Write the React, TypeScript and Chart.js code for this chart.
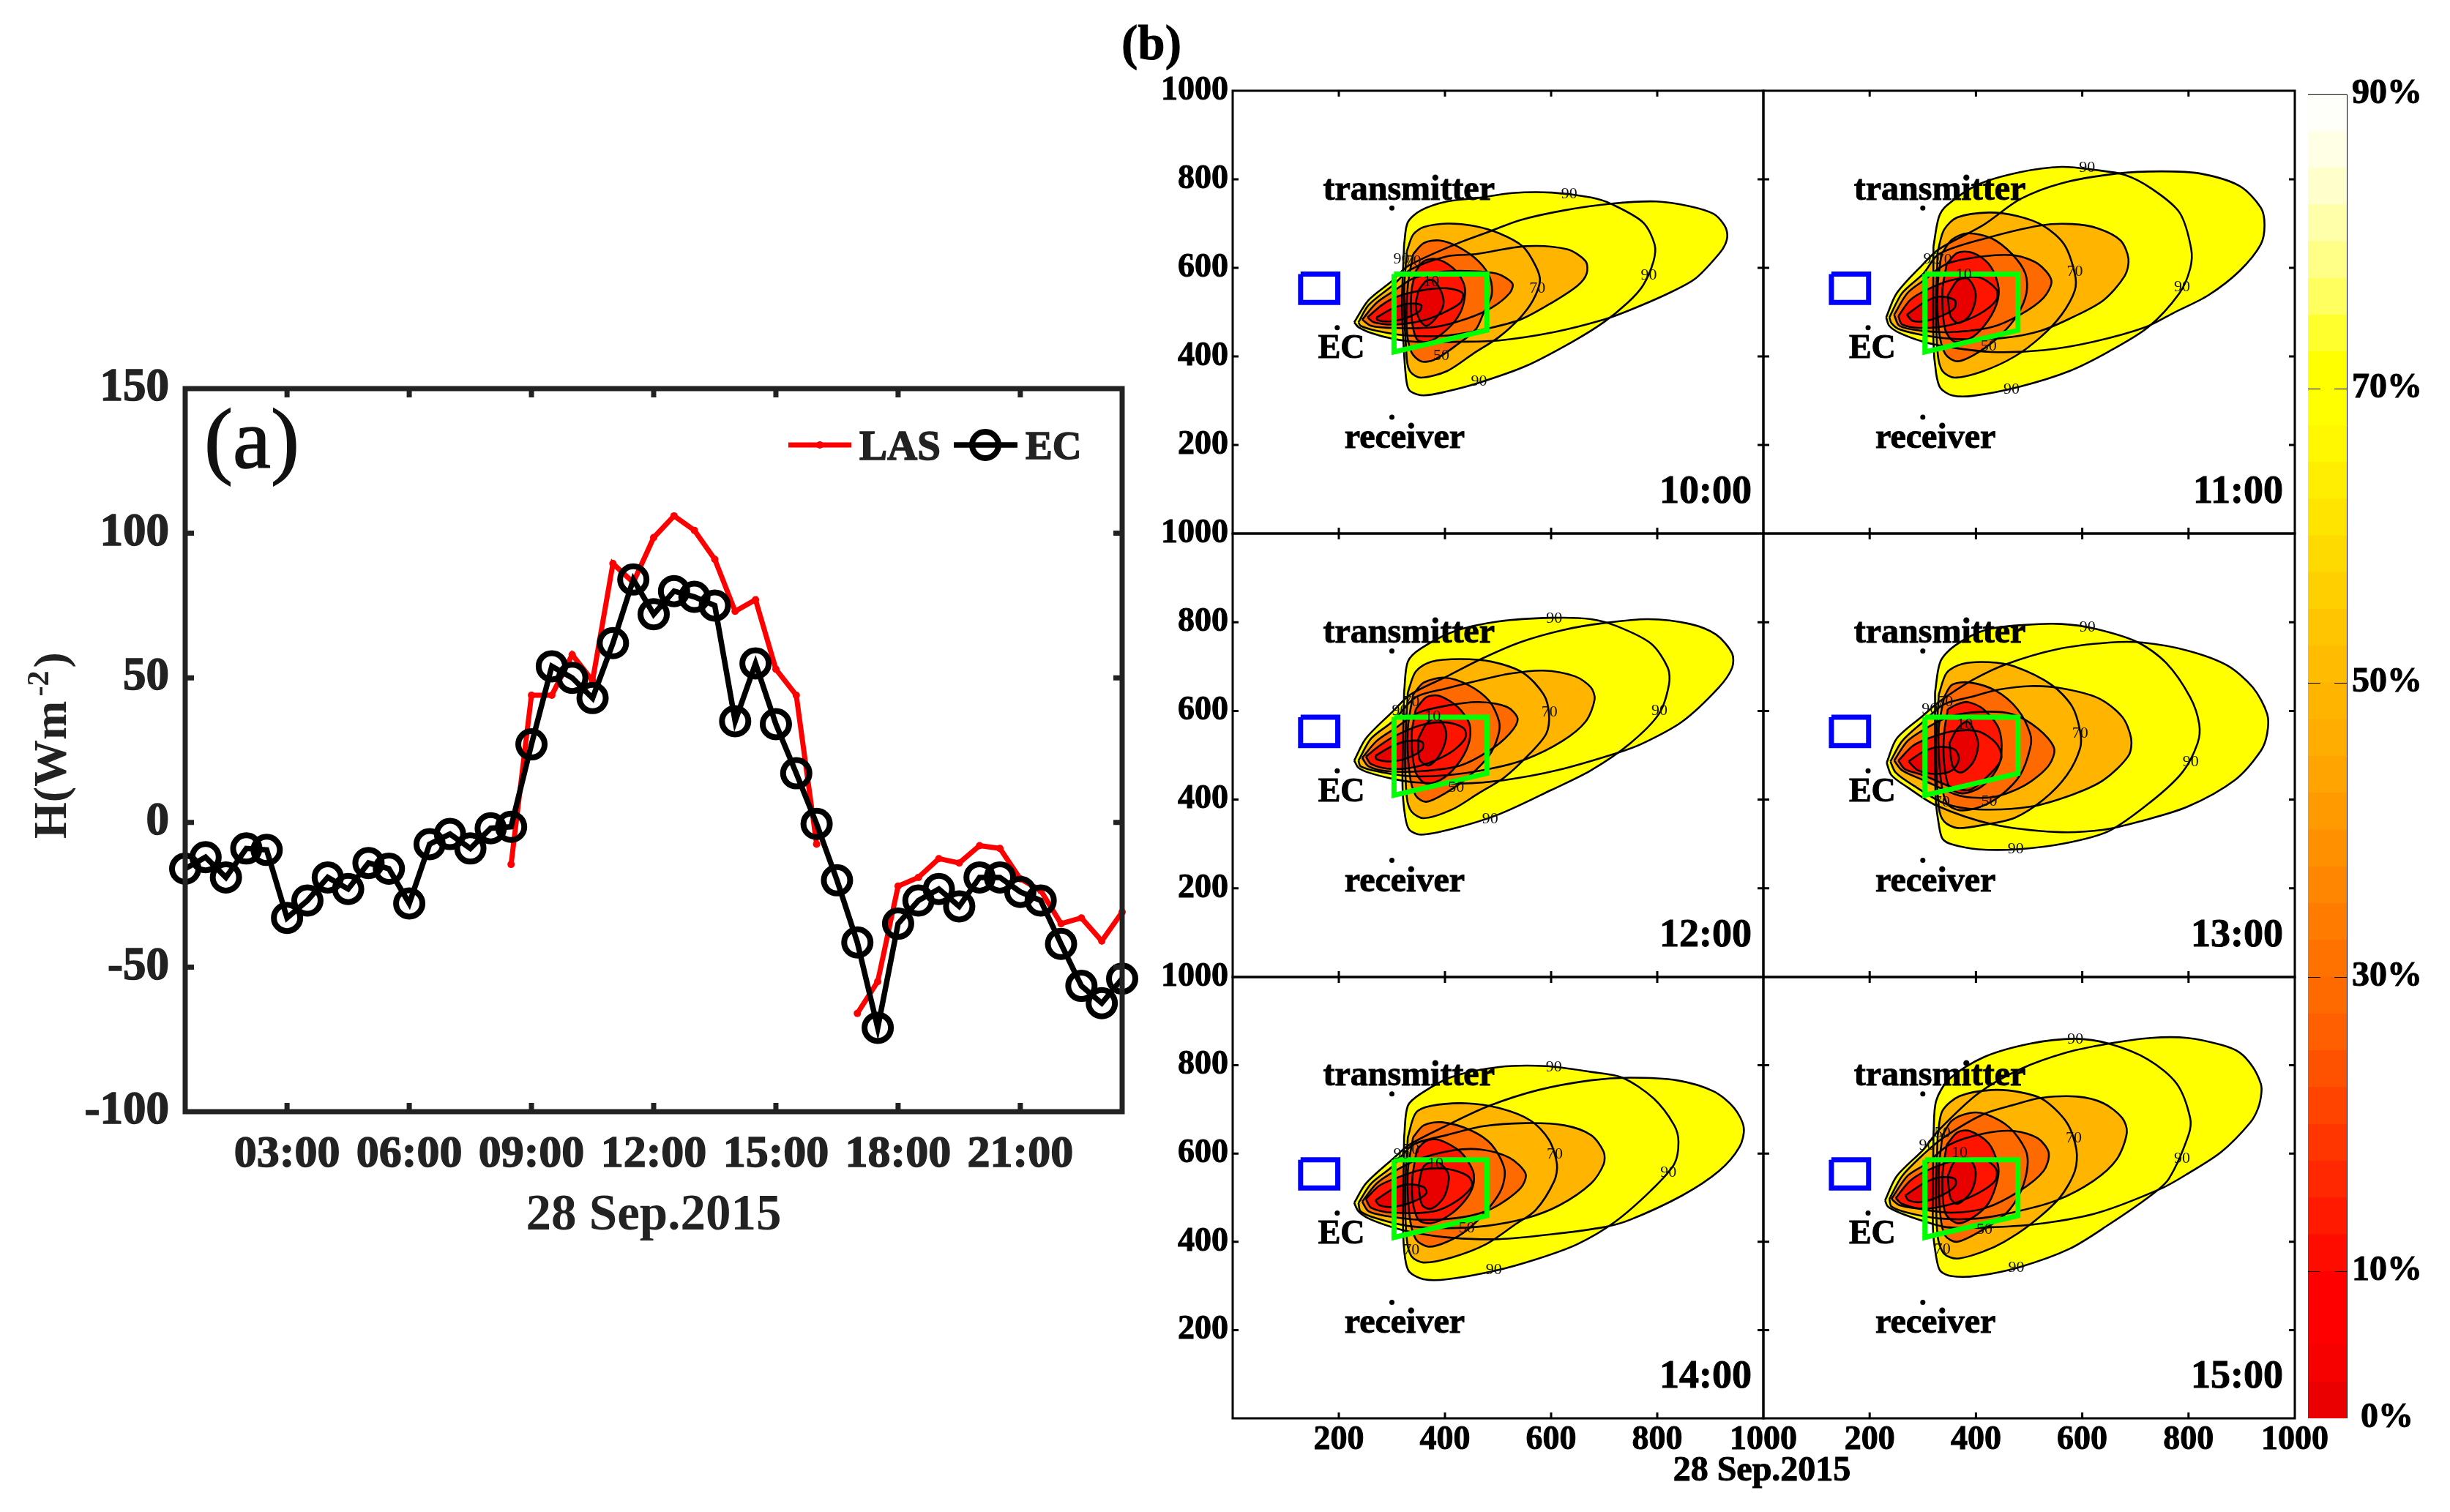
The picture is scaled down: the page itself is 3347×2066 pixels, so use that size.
import React, { useEffect, useRef } from "react";
import { Chart, registerables } from "chart.js";

Chart.register(...registerables);

const FONT = "'Liberation Serif'";

// ---------- panel (a) ----------
const hours = [0.5,1,1.5,2,2.5,3,3.5,4,4.5,5,5.5,6,6.5,7,7.5,8,8.5,9,9.5,10,10.5,11,11.5,12,12.5,13,13.5,14,14.5,15,15.5,16,16.5,17,17.5,18,18.5,19,19.5,20,20.5,21,21.5,22,22.5,23,23.5];
const ecValues = [-16,-12,-19,-9,-9.5,-33,-27,-19,-23,-14,-16,-28,-7.5,-4,-9,-2,-1.5,27,54,50,43,62,84,72,80,78,75,35,55,34,17,-0.5,-20,-41.5,-71,-35,-27,-23,-29,-19,-19,-24,-27,-42,-56.5,-62.5,-54];
const lasValues = [null,null,null,null,null,null,null,null,null,null,null,null,null,null,null,null,-14.5,44,44,58,49,89.5,83,98.5,106,101,91,73,77,53,44,-7.5,null,-66,-55,-22,-19,-12.5,-14,-8,-9,-19.5,-23.5,-35,-33,-41,-31];
const hourTicks = [3,6,9,12,15,18,21];
const hourLabels = ["03:00","06:00","09:00","12:00","15:00","18:00","21:00"];
const fluxTicks = [-100,-50,0,50,100,150];

// ---------- panel (b): footprint contours (x, y in metres) ----------
const c10_O90 = [[229,477],[256,527],[301,571],[330,604],[419,653],[488,684],[542,708],[625,730],[714,745],[798,750],[862,739],[906,722],[926,697],[932,675],[928,653],[916,631],[872,576],[822,543],[749,505],[699,483],[606,455],[502,436],[429,433],[345,433],[301,440],[261,453],[237,466]];
const c10_O70 = [[237,477],[256,516],[301,560],[335,596],[404,626],[458,631],[552,649],[630,642],[665,615],[667,587],[650,560],[601,521],[542,483],[473,461],[404,447],[330,447],[271,458],[241,469]];
const c10_O50 = [[244,483],[271,521],[305,549],[340,576],[389,590],[438,593],[497,587],[527,565],[522,543],[488,510],[443,486],[379,466],[305,464],[261,469]];
const c10_O30 = [[254,488],[281,516],[310,535],[355,549],[404,554],[433,543],[429,521],[394,497],[355,480],[305,472],[266,477]];
const c10_O10 = [[271,488],[301,508],[330,519],[355,516],[352,502],[325,486],[296,479],[273,482]];
const c10_U90 = [[323,653],[330,703],[355,730],[404,750],[463,758],[527,769],[601,770],[675,759],[714,744],[773,703],[795,653],[793,615],[773,560],[744,521],[699,477],[640,433],[552,378],[463,340],[404,321],[360,312],[335,321],[328,340],[323,406],[319,516]];
const c10_U70 = [[328,637],[340,675],[360,692],[404,700],[453,695],[502,678],[547,648],[571,604],[579,571],[566,527],[542,488],[502,444],[453,406],[404,367],[355,352],[335,365],[328,395],[323,543]];
const c10_U50 = [[340,631],[360,656],[389,662],[424,648],[463,615],[485,577],[488,538],[473,499],[458,461],[419,423],[379,392],[355,389],[337,409],[328,461],[330,560]];
const c10_U30 = [[345,593],[360,615],[384,620],[414,601],[433,571],[438,543],[429,499],[404,461],[369,433],[347,439],[337,488],[337,549]];
const c10_U10 = [[350,549],[365,571],[379,571],[394,543],[397,516],[384,488],[365,469],[352,483],[345,516]];

const c11_O90 = [[231,488],[251,543],[301,609],[330,642],[414,697],[483,755],[561,791],[665,813],[749,818],[822,813],[896,785],[936,736],[943,697],[936,653],[896,593],[837,538],[773,499],[719,466],[621,433],[527,414],[429,410],[345,422],[301,433],[256,453],[237,469]];
const c11_O70 = [[237,488],[261,543],[301,587],[330,631],[419,667],[522,696],[581,699],[630,689],[672,662],[687,620],[680,582],[640,527],[581,488],[522,458],[453,442],[365,439],[305,447],[256,461],[241,475]];
const c11_O50 = [[246,494],[271,543],[301,571],[345,609],[414,626],[473,628],[517,609],[542,571],[527,532],[483,494],[429,466],[355,455],[296,458],[256,469]];
const c11_O30 = [[254,491],[276,527],[305,549],[350,571],[404,579],[438,552],[438,527],[404,494],[355,472],[301,464],[261,472]];
const c11_O10 = [[270,494],[301,521],[330,535],[360,527],[360,510],[340,494],[305,480],[281,480]];
const c11_U90 = [[320,648],[330,714],[345,741],[404,788],[483,816],[561,828],[625,821],[680,810],[729,780],[783,725],[805,643],[803,598],[783,543],[724,466],[650,411],[576,367],[483,332],[394,311],[355,312],[333,329],[325,362],[320,433]];
const c11_U70 = [[328,637],[340,686],[365,714],[424,725],[478,717],[527,695],[566,653],[586,587],[586,549],[561,494],[522,444],[473,400],[414,367],[360,352],[337,367],[328,406],[325,516]];
const c11_U50 = [[335,631],[355,664],[384,678],[429,667],[468,631],[493,587],[495,543],[478,494],[448,450],[404,409],[365,389],[342,406],[330,461],[328,560]];
const c11_U30 = [[345,609],[365,634],[394,634],[424,609],[441,565],[441,527],[424,483],[394,444],[360,433],[342,461],[337,549]];
const c11_U10 = [[347,538],[365,571],[384,576],[397,554],[399,527],[387,491],[367,475],[352,491]];

const c12_O90 = [[229,488],[251,538],[301,598],[335,637],[404,678],[468,717],[542,755],[625,783],[699,798],[783,807],[862,796],[911,772],[941,730],[941,697],[916,653],[847,576],[773,527],[724,505],[611,466],[512,444],[429,436],[345,439],[301,447],[256,461],[237,472]];
const c12_O70 = [[237,488],[261,538],[301,576],[345,631],[404,651],[458,667],[522,684],[586,691],[645,678],[675,653],[682,626],[665,576],[621,532],[552,491],[483,469],[404,455],[330,453],[271,464],[241,475]];
const c12_O50 = [[244,494],[271,532],[305,560],[350,596],[404,612],[463,620],[517,609],[537,582],[522,549],[483,510],[429,477],[355,464],[291,464],[256,475]];
const c12_O30 = [[251,497],[276,521],[305,543],[355,568],[404,574],[436,560],[438,538],[409,505],[355,477],[301,469],[261,480]];
const c12_O10 = [[269,499],[301,521],[330,532],[357,530],[357,513],[330,494],[296,486],[271,491]];
const c12_U90 = [[323,642],[330,711],[355,741],[419,780],[502,802],[601,810],[675,807],[724,791],[788,752],[820,697],[822,659],[803,593],[749,527],[675,466],[601,422],[502,367],[414,334],[355,321],[333,332],[325,362],[320,433]];
const c12_U70 = [[330,642],[345,689],[374,711],[429,717],[488,711],[547,686],[586,637],[596,593],[591,549],[561,505],[512,450],[463,414],[414,378],[360,358],[337,373],[328,406],[325,516]];
const c12_U50 = [[340,637],[360,664],[399,675],[443,659],[483,623],[502,576],[500,543],[483,499],[443,450],[404,417],[365,395],[345,409],[333,461],[330,560]];
const c12_U30 = [[345,604],[365,631],[389,634],[424,609],[446,571],[446,532],[429,488],[399,450],[365,436],[345,461],[337,543]];
const c12_U10 = [[350,538],[365,571],[384,585],[399,565],[402,538],[389,499],[369,477],[352,491]];

const c13_O90 = [[232,483],[251,538],[301,590],[330,620],[394,670],[458,706],[552,739],[650,754],[714,754],[798,736],[872,703],[921,653],[948,593],[948,549],[936,510],[887,444],[798,384],[709,351],[640,332],[552,327],[429,345],[325,387],[271,428],[241,455]];
const c13_O70 = [[239,486],[261,532],[301,576],[340,615],[389,631],[443,648],[502,656],[561,651],[630,629],[675,587],[692,538],[687,499],[640,444],[581,411],[502,384],[404,378],[340,392],[281,433],[249,461]];
const c13_O50 = [[246,488],[271,532],[305,560],[350,587],[409,598],[468,593],[517,560],[547,516],[537,477],[493,433],[433,406],[369,409],[301,444],[261,466]];
const c13_O30 = [[254,488],[281,521],[310,538],[355,554],[404,554],[438,527],[448,494],[429,461],[389,422],[355,428],[301,455],[266,469]];
const c13_O10 = [[273,486],[301,508],[330,519],[360,513],[368,491],[355,466],[325,458],[291,466]];
const c13_U90 = [[323,642],[333,711],[360,747],[419,783],[493,794],[561,796],[625,785],[704,755],[758,708],[803,631],[820,571],[817,527],[788,461],[729,395],[650,329],[566,301],[478,288],[404,288],[355,299],[337,312],[330,345],[324,406]];
const c13_U70 = [[330,637],[345,686],[374,706],[424,710],[473,700],[542,659],[581,610],[596,554],[596,516],[571,455],[527,400],[473,359],[414,343],[365,336],[340,351],[330,384],[325,516]];
const c13_U50 = [[340,631],[355,659],[389,664],[438,645],[478,604],[502,549],[502,516],[483,455],[448,411],[409,384],[369,376],[345,392],[333,455],[330,560]];
const c13_U30 = [[347,604],[365,615],[384,620],[414,604],[443,560],[448,505],[438,466],[409,428],[374,414],[350,428],[340,483],[340,549]];
const c13_U10 = [[350,527],[365,560],[384,576],[399,549],[404,521],[394,483],[372,461],[357,472]];

const c14_O90 = [[229,488],[251,532],[301,587],[333,620],[404,664],[483,708],[576,744],[675,766],[749,772],[837,766],[906,741],[945,703],[963,659],[955,615],[916,560],[847,505],[749,450],[699,433],[601,417],[502,406],[414,409],[345,420],[301,433],[256,453],[237,469]];
const c14_O70 = [[237,488],[261,532],[301,571],[340,620],[404,642],[473,662],[552,669],[625,664],[675,642],[699,604],[699,576],[675,532],[616,483],[552,453],[478,436],[404,431],[330,436],[271,453],[241,469]];
const c14_O50 = [[244,491],[271,532],[305,560],[350,587],[414,607],[468,609],[522,590],[552,554],[542,521],[488,475],[429,455],[355,450],[291,458],[256,469]];
const c14_O30 = [[251,497],[276,527],[305,543],[355,563],[404,565],[443,549],[451,527],[424,494],[379,469],[301,466],[261,477]];
const c14_O10 = [[269,494],[301,519],[330,530],[360,524],[365,510],[340,491],[301,479],[276,483]];
const c14_U90 = [[323,637],[330,708],[355,736],[414,774],[502,796],[591,798],[675,785],[734,772],[793,725],[832,664],[840,626],[832,576],[788,516],[719,444],[650,395],[576,362],[493,334],[404,315],[360,315],[333,332],[325,362],[321,433]];
const c14_U70 = [[330,637],[345,692],[374,708],[438,714],[502,703],[561,675],[596,631],[611,576],[606,538],[571,472],[532,439],[478,395],[414,365],[360,353],[337,367],[328,406],[325,516]];
const c14_U50 = [[340,637],[360,664],[394,671],[448,653],[488,620],[512,565],[507,521],[483,477],[443,428],[404,400],[369,389],[345,406],[333,461],[330,560]];
const c14_U30 = [[347,609],[365,629],[389,631],[429,604],[453,560],[453,527],[438,494],[409,461],[374,442],[350,450],[339,494],[339,549]];
const c14_U10 = [[350,527],[360,571],[384,582],[404,560],[407,538],[397,499],[374,475],[357,483]];

const c15_O90 = [[229,494],[251,549],[301,609],[330,653],[404,736],[483,791],[571,829],[650,849],[729,862],[798,862],[862,846],[896,829],[921,796],[936,758],[937,736],[931,703],[916,670],[862,604],[798,554],[749,521],[630,466],[527,442],[429,433],[345,433],[301,447],[256,466],[234,480]];
const c15_O70 = [[237,497],[261,549],[301,598],[340,637],[414,689],[473,711],[522,726],[591,729],[640,714],[675,681],[684,648],[665,587],[621,538],[552,494],[478,469],[404,453],[330,453],[271,466],[241,480]];
const c15_O50 = [[241,497],[271,549],[305,576],[350,620],[414,645],[473,651],[517,634],[537,601],[527,560],[483,516],[419,477],[355,466],[291,475],[256,483]];
const c15_O30 = [[249,499],[276,538],[305,560],[355,582],[414,587],[438,565],[436,538],[404,510],[355,486],[301,475],[261,486]];
const c15_O10 = [[267,505],[301,532],[330,546],[360,543],[361,527],[335,505],[296,490],[273,494]];
const c15_U90 = [[320,642],[325,719],[350,769],[414,818],[502,849],[586,860],[650,849],[724,813],[778,758],[803,681],[800,642],[763,543],[729,505],[650,439],[576,384],[483,343],[404,323],[355,322],[333,334],[325,367],[319,433]];
const c15_U70 = [[328,642],[337,697],[369,730],[429,744],[483,739],[527,722],[571,670],[589,609],[586,560],[557,499],[502,439],[453,400],[414,378],[365,362],[340,373],[328,411],[325,516]];
const c15_U50 = [[337,642],[355,675],[389,692],[419,689],[463,659],[493,609],[497,571],[485,516],[458,466],[414,428],[365,400],[342,414],[333,461],[330,560]];
const c15_U30 = [[345,620],[365,648],[389,651],[424,623],[441,576],[441,543],[424,488],[394,455],[365,442],[342,466],[337,549]];
const c15_U10 = [[347,549],[360,582],[384,590],[397,571],[399,543],[389,510],[365,486],[352,499]];

// contour labels: text, x, y
const l10 = [["90",634,767],["90",784,583],["90",464,343],["70",574,553],["50",393,402],["90",318,619],["70",340,615],["10",374,569]];
const l11 = [["90",609,826],["90",788,557],["90",467,325],["70",586,591],["50",424,422],["90",316,619],["70",340,618],["10",377,585]];
const l12 = [["90",606,809],["90",804,600],["90",485,356],["70",597,597],["50",421,427],["90",315,601],["70",337,620],["10",377,587]];
const l13 = [["90",610,789],["90",804,485],["90",475,288],["70",596,549],["50",425,396],["90",313,604],["70",342,620],["10",379,569],["70",336,394]];
const l14 = [["90",605,796],["90",821,557],["90",492,336],["70",607,598],["50",441,431],["90",318,598],["70",337,609],["10",382,576],["70",337,381]];
const l15 = [["90",587,858],["90",788,589],["90",476,341],["70",584,635],["50",416,428],["90",308,618],["50",337,647],["10",369,601],["70",337,383]];

const footprintBox = [[304,586],[479,586],[479,459],[304,410]];
const ecFootprintBox = [[128,586],[198,586],[198,522],[128,522]];
const sitePoints = [[300,735],[300,263],[197,465]];
const axisTicksB = [200,400,600,800,1000];
const innerTicksB = [200,400,600,800];
const levelColors = ["#FFFF00","#FFB400","#FF6A00","#FF1400","#E80000"];

const panelNames = ["10:00","11:00","12:00","13:00","14:00","15:00"];
const panelContours = [
  [[c10_O90,c10_U90],[c10_O70,c10_U70],[c10_O50,c10_U50],[c10_O30,c10_U30],[c10_O10,c10_U10]],
  [[c11_O90,c11_U90],[c11_O70,c11_U70],[c11_O50,c11_U50],[c11_O30,c11_U30],[c11_O10,c11_U10]],
  [[c12_O90,c12_U90],[c12_O70,c12_U70],[c12_O50,c12_U50],[c12_O30,c12_U30],[c12_O10,c12_U10]],
  [[c13_O90,c13_U90],[c13_O70,c13_U70],[c13_O50,c13_U50],[c13_O30,c13_U30],[c13_O10,c13_U10]],
  [[c14_O90,c14_U90],[c14_O70,c14_U70],[c14_O50,c14_U50],[c14_O30,c14_U30],[c14_O10,c14_U10]],
  [[c15_O90,c15_U90],[c15_O70,c15_U70],[c15_O50,c15_U50],[c15_O30,c15_U30],[c15_O10,c15_U10]],
];
const panelLabels = [l10,l11,l12,l13,l14,l15];

// ---------- colour bar ----------
const barTops = [2.5,5,7.5,10,12.5,15,17.5,20,22.5,25,27.5,30,32.5,35,37.5,40,42.5,45,47.5,50,52.5,55,57.5,60,62.5,65,67.5,70,72.5,75,77.5,80,82.5,85,87.5,90];
const barColors = ["#EA0000","#F60000","#FF0000","#FF0000","#FF0C00","#FF1A00","#FF2800","#FF3600","#FF4400","#FF5200","#FF5F00","#FF6A00","#FF7200","#FF7C00","#FF8600","#FF9000","#FF9A00","#FFA400","#FFAE00","#FFB400","#FFBC00","#FFC600","#FFD000","#FFDA00","#FFE400","#FFEE00","#FFF800","#FFFF00","#FFFF00","#FFFF2E","#FFFF60","#FFFF88","#FFFFAA","#FFFFCC","#FFFFE6","#FFFFFA"];
const barTicks = [0,10,30,50,70,90];
const barDashes = [10,30,50,70];

// ---------- layout ----------
const A = { left: 253, top: 531, right: 1533, bottom: 1519 };
const B = { cols: [1684, 2409, 3135], rows: [124, 729, 1335, 1938], mL: 160, mR: 130, mT: 112, mB: 112 };
const CB = { left: 3153, right: 3207 };

const closed = (pts: number[][]) => [...pts, pts[0]].map(([x, y]) => ({ x, y }));

function text(ctx: any, s: string, x: number, y: number, font: string, color = "#000", align = "center", stroke = 0) {
  ctx.save();
  ctx.font = font;
  ctx.fillStyle = color;
  ctx.textAlign = align;
  ctx.textBaseline = "middle";
  ctx.fillText(s, x, y);
  if (stroke > 0) {
    ctx.strokeStyle = color;
    ctx.lineWidth = stroke;
    ctx.strokeText(s, x, y);
  }
  ctx.restore();
}

function frameAndTicks(chart: any, lineW: number, len: number, color: string, xt: number[], yt: number[]) {
  const { ctx, chartArea: a, scales } = chart;
  ctx.save();
  ctx.strokeStyle = color;
  ctx.lineWidth = lineW;
  ctx.strokeRect(a.left, a.top, a.right - a.left, a.bottom - a.top);
  ctx.beginPath();
  xt.forEach((v) => {
    const p = scales.x.getPixelForValue(v);
    ctx.moveTo(p, a.bottom); ctx.lineTo(p, a.bottom - len);
    ctx.moveTo(p, a.top); ctx.lineTo(p, a.top + len);
  });
  yt.forEach((v) => {
    const p = scales.y.getPixelForValue(v);
    ctx.moveTo(a.left, p); ctx.lineTo(a.left + len, p);
    ctx.moveTo(a.right, p); ctx.lineTo(a.right - len, p);
  });
  ctx.stroke();
  ctx.restore();
}

function makePanelA() {
  const DARK = "#222222";
  const W = 1600, H = 1268, TOP = 440;
  return {
    left: 0, top: TOP, width: W, height: H,
    config: {
      type: "scatter",
      data: {
        datasets: [
          { label: "EC", order: 1, showLine: true, clip: false, data: hours.map((x, i) => ({ x, y: ecValues[i] })),
            borderColor: "#000", borderWidth: 7.5, pointRadius: 18, pointBorderWidth: 8, pointBorderColor: "#000", pointBackgroundColor: "rgba(0,0,0,0)" },
          { label: "LAS", order: 2, showLine: true, clip: false, spanGaps: false, data: hours.map((x, i) => ({ x, y: lasValues[i] })),
            borderColor: "#FF0000", borderWidth: 7, pointRadius: 5, pointBorderWidth: 0, pointBackgroundColor: "#FF0000" },
        ],
      },
      options: {
        animation: false, responsive: false, devicePixelRatio: 1,
        layout: { autoPadding: false, padding: { top: A.top - TOP, right: W - A.right, left: 0, bottom: 0 } },
        plugins: { legend: { display: false }, tooltip: { enabled: false } },
        scales: {
          x: {
            type: "linear", min: 0.5, max: 23.5,
            afterBuildTicks: (s: any) => { s.ticks = hourTicks.map((value) => ({ value })); },
            afterFit: (s: any) => { s.height = H - (A.bottom - TOP); },
            grid: { display: false, drawTicks: false }, border: { display: false },
            ticks: { autoSkip: false, maxRotation: 0, minRotation: 0, padding: 22, color: DARK, textStrokeColor: DARK, textStrokeWidth: 1.5, font: { family: FONT, weight: "bold", size: 62 },
              callback: (v: number) => hourLabels[hourTicks.indexOf(v)] },
            title: { display: true, text: "28 Sep.2015", color: DARK, font: { family: FONT, weight: "bold", size: 69 } },
          },
          y: {
            type: "linear", min: -100, max: 150,
            afterBuildTicks: (s: any) => { s.ticks = fluxTicks.map((value) => ({ value })); },
            afterFit: (s: any) => { s.width = A.left; },
            grid: { display: false, drawTicks: false }, border: { display: false },
            ticks: { autoSkip: false, padding: 22, color: DARK, textStrokeColor: DARK, textStrokeWidth: 1.5, font: { family: FONT, weight: "bold", size: 63 } },
          },
        },
      },
      plugins: [{
        id: "panelA",
        afterDraw(chart: any) {
          const ctx = chart.ctx;
          frameAndTicks(chart, 7, 12, DARK, hourTicks, fluxTicks.slice(1, -1));
          const ly = 608 - TOP;
          text(ctx, "(a)", 344, ly, `117px ${FONT}`, "#111", "center", 1.5);
          ctx.save();
          ctx.strokeStyle = "#FF0000"; ctx.lineWidth = 7;
          ctx.beginPath(); ctx.moveTo(1077, ly); ctx.lineTo(1163, ly); ctx.stroke();
          ctx.fillStyle = "#FF0000"; ctx.beginPath(); ctx.arc(1120, ly, 5, 0, 7); ctx.fill();
          ctx.strokeStyle = "#000"; ctx.lineWidth = 7.5;
          ctx.beginPath(); ctx.moveTo(1303, ly); ctx.lineTo(1390, ly); ctx.stroke();
          ctx.lineWidth = 8;
          ctx.beginPath(); ctx.arc(1346, ly, 18, 0, 7); ctx.stroke();
          ctx.restore();
          text(ctx, "LAS", 1174, ly + 5, `bold 57px ${FONT}`, DARK, "left", 1.5);
          text(ctx, "EC", 1401, ly + 5, `bold 55px ${FONT}`, DARK, "left", 1.5);
          // rotated axis title with superscript
          ctx.save();
          ctx.translate(73, 1022 - TOP);
          ctx.rotate(-Math.PI / 2);
          ctx.fillStyle = DARK;
          ctx.textBaseline = "middle";
          ctx.textAlign = "left";
          let x = -124;
          ctx.font = `bold 64px ${FONT}`;
          ctx.fillText("H(Wm", x, 0);
          x += ctx.measureText("H(Wm").width + 6;
          ctx.font = `bold 42px ${FONT}`;
          ctx.fillText("-2", x, -18);
          x += ctx.measureText("-2").width + 4;
          ctx.font = `bold 64px ${FONT}`;
          ctx.fillText(")", x, 0);
          ctx.restore();
        },
      }],
    },
  };
}

function makePanelB(i: number) {
  const col = i % 2;
  const row = Math.floor(i / 2);
  const left = B.cols[col], right = B.cols[col + 1], top = B.rows[row], bottom = B.rows[row + 1];
  const W = right - left + B.mL + B.mR;
  const H = bottom - top + B.mT + B.mB;
  const datasets: any[] = [];
  panelContours[i].forEach((pair, lv) => {
    pair.forEach((pts) => {
      datasets.push({ order: 100 - lv, showLine: true, fill: "shape", tension: 0.3, pointRadius: 0, borderColor: "rgba(0,0,0,0)", borderWidth: 0,
        backgroundColor: levelColors[lv], data: closed(pts) });
      datasets.push({ order: 10, showLine: true, fill: false, tension: 0.3, pointRadius: 0, borderColor: "#000", borderWidth: 2.6, data: closed(pts) });
    });
  });
  datasets.push({ order: 4, showLine: true, fill: false, tension: 0, pointRadius: 0, borderColor: "#00FF00", borderWidth: 7, data: closed(footprintBox) });
  datasets.push({ order: 4, showLine: true, fill: false, tension: 0, pointRadius: 0, borderColor: "#0000FF", borderWidth: 7, data: closed(ecFootprintBox) });
  datasets.push({ order: 3, showLine: false, pointRadius: 3.5, pointBorderWidth: 0, pointBackgroundColor: "#000", data: sitePoints.map(([x, y]) => ({ x, y })) });
  return {
    left: left - B.mL, top: top - B.mT, width: W, height: H,
    config: {
      type: "scatter",
      data: { datasets },
      options: {
        animation: false, responsive: false, devicePixelRatio: 1,
        layout: { autoPadding: false, padding: { top: B.mT, right: B.mR, left: 0, bottom: 0 } },
        plugins: { legend: { display: false }, tooltip: { enabled: false } },
        scales: {
          x: {
            type: "linear", min: 0, max: 1000,
            afterBuildTicks: (s: any) => { s.ticks = axisTicksB.map((value) => ({ value })); },
            afterFit: (s: any) => { s.height = B.mB; },
            grid: { display: false, drawTicks: false }, border: { display: false },
            ticks: { autoSkip: false, maxRotation: 0, minRotation: 0, padding: 3, color: "#000", textStrokeColor: "#000", textStrokeWidth: 1, font: { family: FONT, weight: "bold", size: 46 },
              callback: (v: number) => (row === 2 ? String(v) : "") },
          },
          y: {
            type: "linear", min: 0, max: 1000,
            afterBuildTicks: (s: any) => { s.ticks = axisTicksB.map((value) => ({ value })); },
            afterFit: (s: any) => { s.width = B.mL; },
            grid: { display: false, drawTicks: false }, border: { display: false },
            ticks: { autoSkip: false, padding: 6, color: "#000", textStrokeColor: "#000", textStrokeWidth: 1, font: { family: FONT, weight: "bold", size: 46 },
              callback: (v: number) => (col === 0 ? String(v) : "") },
          },
        },
      },
      plugins: [{
        id: "panelB",
        afterDatasetsDraw(chart: any) {
          const { ctx, scales: { x, y } } = chart;
          panelLabels[i].forEach(([s, dx, dy]: any) => text(ctx, s, x.getPixelForValue(dx), y.getPixelForValue(dy), `22px ${FONT}`, "#111"));
          const f = `bold 48px ${FONT}`;
          text(ctx, "transmitter", x.getPixelForValue(332), y.getPixelForValue(775), f, "#000", "center", 1);
          text(ctx, "EC", x.getPixelForValue(205), y.getPixelForValue(416), `bold 46px ${FONT}`, "#000", "center", 1);
          text(ctx, "receiver", x.getPixelForValue(324), y.getPixelForValue(214), f, "#000", "center", 1);
          text(ctx, panelNames[i], x.getPixelForValue(978), y.getPixelForValue(93), `bold 54px ${FONT}`, "#000", "right", 1);
          frameAndTicks(chart, 3, 8, "#000", innerTicksB, innerTicksB);
          if (i === 0) text(ctx, "(b)", 1573 - (left - B.mL), 64 - (top - B.mT), `bold 67px ${FONT}`, "#000", "center", 1);
          if (i === 4) text(ctx, "28 Sep.2015", 2407 - (left - B.mL), 2011 - (top - B.mT), `bold 48px ${FONT}`, "#000", "center", 1);
        },
      }],
    },
  };
}

function makeColorBar() {
  const top = B.rows[0], bottom = B.rows[3];
  const mT = 30, mB = 40, axisW = 140, W = CB.right - CB.left + axisW;
  return {
    left: CB.left, top: top - mT, width: W, height: bottom - top + mT + mB,
    config: {
      type: "bar",
      data: {
        labels: ["%"],
        datasets: barTops.map((v, i) => ({ data: [v], grouped: false, backgroundColor: barColors[i], borderWidth: 0, barPercentage: 1, categoryPercentage: 1 })),
      },
      options: {
        animation: false, responsive: false, devicePixelRatio: 1,
        layout: { autoPadding: false, padding: { top: mT, left: 0, right: 0, bottom: 0 } },
        plugins: { legend: { display: false }, tooltip: { enabled: false } },
        scales: {
          x: { display: true, afterFit: (s: any) => { s.height = mB; }, grid: { display: false, drawTicks: false }, border: { display: false }, ticks: { display: false } },
          y: {
            position: "right", type: "linear", min: 0, max: 90,
            afterBuildTicks: (s: any) => { s.ticks = barTicks.map((value) => ({ value })); },
            afterFit: (s: any) => { s.width = axisW; },
            grid: { display: false, drawTicks: false }, border: { display: false },
            ticks: { autoSkip: false, crossAlign: "center", padding: 6, color: "#000", textStrokeColor: "#000", textStrokeWidth: 1, font: { family: FONT, weight: "bold", size: 48 },
              callback: (v: number) => `${v}%` },
          },
        },
      },
      plugins: [{
        id: "barMarks",
        afterDraw(chart: any) {
          const { ctx, chartArea: a, scales: { y } } = chart;
          ctx.save();
          ctx.strokeStyle = "#000"; ctx.lineWidth = 1;
          ctx.beginPath();
          ctx.moveTo(a.left, a.top + 0.5); ctx.lineTo(a.right - 0.5, a.top + 0.5); ctx.lineTo(a.right - 0.5, a.bottom);
          barDashes.forEach((v) => {
            const p = Math.round(y.getPixelForValue(v)) + 0.5;
            ctx.moveTo(a.left, p); ctx.lineTo(a.left + 17, p);
            ctx.moveTo(a.right - 18, p); ctx.lineTo(a.right, p);
          });
          ctx.stroke();
          ctx.restore();
        },
      }],
    },
  };
}

function ChartBox({ make }: { make: () => any }) {
  const ref = useRef<HTMLCanvasElement>(null);
  const spec = make();
  useEffect(() => {
    const chart = new Chart(ref.current as any, spec.config);
    return () => chart.destroy();
  }, []);
  return (
    <canvas ref={ref} width={spec.width} height={spec.height}
      style={{ position: "absolute", left: spec.left, top: spec.top, width: spec.width, height: spec.height }} />
  );
}

export default function App() {
  return (
    <div style={{ position: "fixed", left: 0, top: 0, width: 3347, height: 2066, background: "#fff", overflow: "hidden" }}>
      <ChartBox make={makePanelA} />
      {[0, 1, 2, 3, 4, 5].map((i) => <ChartBox key={i} make={() => makePanelB(i)} />)}
      <ChartBox make={makeColorBar} />
    </div>
  );
}
